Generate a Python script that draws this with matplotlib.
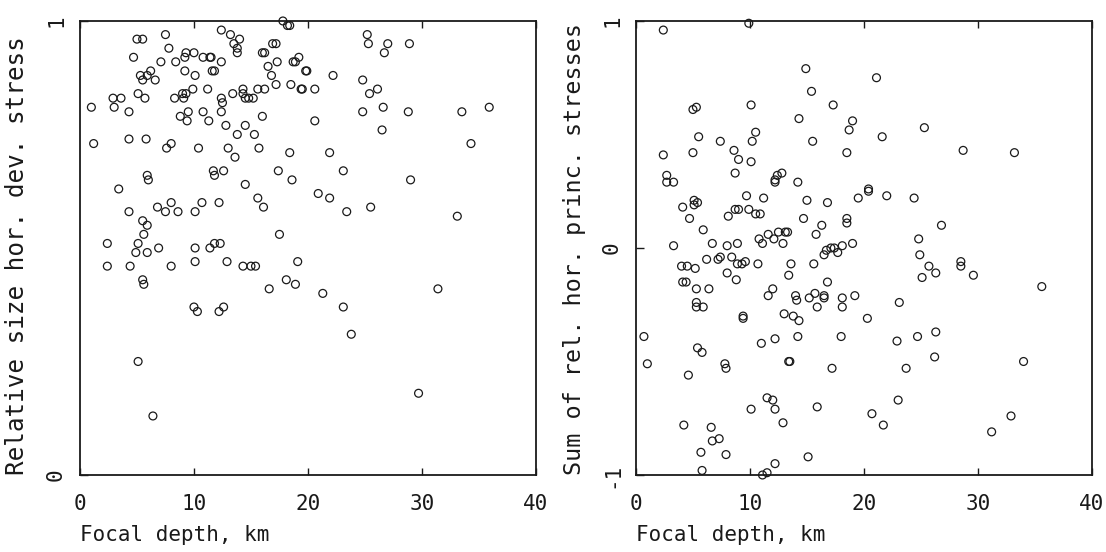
import matplotlib
matplotlib.use('Agg')
import matplotlib.pyplot as plt

# focal depth (km) and relative size of horizontal deviatoric stress
depth_left = [
    17.8, 18.2, 18.4, 5.0, 5.5, 7.5, 12.4, 13.2, 14.0, 13.5, 13.8, 13.8, 7.8, 4.7,
    7.1, 8.4, 9.3, 10.0, 9.2, 10.8, 11.4, 11.5, 12.4, 16.0, 16.2, 16.9, 17.2, 16.5,
    17.3, 16.8, 17.2, 18.9, 19.2, 18.7, 19.8, 18.5, 19.4, 5.3, 5.5, 6.2, 6.6, 5.9,
    9.2, 10.1, 11.6, 11.8, 8.3, 9.0, 9.3, 9.9, 9.1, 11.2, 12.4, 12.5, 12.4, 13.4,
    14.3, 14.3, 14.5, 14.8, 15.2, 15.6, 16.2, 2.9, 3.6, 3.0, 5.1, 5.7, 1.0, 4.3,
    9.5, 8.8, 9.4, 10.8, 11.3, 16.0, 12.8, 14.5, 13.8, 15.3, 1.2, 4.3, 5.8, 7.6,
    8.0, 10.4, 13.0, 13.6, 15.7, 18.4, 11.7, 11.8, 12.6, 5.9, 6.0, 17.4, 18.6, 14.5,
    3.4, 25.2, 25.3, 27.0, 26.7, 28.9, 19.9, 19.5, 20.6, 22.2, 24.8, 26.1, 25.4, 24.8,
    26.6, 28.8, 33.5, 35.9, 20.6, 26.5, 34.3, 21.9, 23.1, 29.0, 15.6, 16.1, 4.3, 6.8,
    7.5, 8.0, 8.6, 10.1, 10.7, 12.2, 5.5, 5.9, 5.6, 17.5, 2.4, 5.1, 4.9, 5.9, 6.9,
    10.1, 11.4, 11.8, 12.3, 2.4, 4.4, 8.0, 10.1, 12.9, 14.3, 15.0, 15.4, 19.1, 5.5,
    5.6, 16.6, 18.1, 18.9, 10.0, 10.3, 12.2, 12.6, 20.9, 21.9, 23.4, 25.5, 33.1, 31.4,
    21.3, 23.1, 5.1, 6.4, 23.8, 29.7,
]
rel_size = [
    1.00, 0.99, 0.99, 0.96, 0.96, 0.97, 0.98, 0.97, 0.96, 0.95, 0.94, 0.93, 0.94, 0.92,
    0.91, 0.91, 0.93, 0.93, 0.92, 0.92, 0.92, 0.92, 0.91, 0.93, 0.93, 0.95, 0.95, 0.90,
    0.91, 0.88, 0.86, 0.91, 0.92, 0.91, 0.89, 0.86, 0.85, 0.88, 0.87, 0.89, 0.87, 0.88,
    0.89, 0.88, 0.89, 0.89, 0.83, 0.84, 0.84, 0.85, 0.83, 0.85, 0.83, 0.82, 0.80, 0.84,
    0.85, 0.84, 0.83, 0.83, 0.83, 0.85, 0.85, 0.83, 0.83, 0.81, 0.84, 0.83, 0.81, 0.80,
    0.80, 0.79, 0.78, 0.80, 0.78, 0.79, 0.77, 0.77, 0.75, 0.75, 0.73, 0.74, 0.74, 0.72,
    0.73, 0.72, 0.72, 0.70, 0.72, 0.71, 0.67, 0.66, 0.67, 0.66, 0.65, 0.67, 0.65, 0.64,
    0.63, 0.97, 0.95, 0.95, 0.93, 0.95, 0.89, 0.85, 0.85, 0.88, 0.87, 0.85, 0.84, 0.80,
    0.81, 0.80, 0.80, 0.81, 0.78, 0.76, 0.73, 0.71, 0.67, 0.65, 0.61, 0.59, 0.58, 0.59,
    0.58, 0.60, 0.58, 0.58, 0.60, 0.60, 0.56, 0.55, 0.53, 0.53, 0.51, 0.51, 0.49, 0.49,
    0.50, 0.50, 0.50, 0.51, 0.51, 0.46, 0.46, 0.46, 0.47, 0.47, 0.46, 0.46, 0.46, 0.47,
    0.43, 0.42, 0.41, 0.43, 0.42, 0.37, 0.36, 0.36, 0.37, 0.62, 0.61, 0.58, 0.59, 0.57,
    0.41, 0.40, 0.37, 0.25, 0.13, 0.31, 0.18,
]

# focal depth (km) and sum of relative horizontal principal stresses
depth_right = [
    2.4, 9.9, 14.9, 15.4, 14.3, 15.5, 10.1, 5.0, 5.3, 5.5, 10.5, 10.2, 7.4, 2.4,
    5.0, 8.6, 9.0, 10.1, 2.7, 2.7, 3.3, 8.7, 12.2, 12.4, 12.8, 12.2, 14.2, 21.1,
    17.3, 19.0, 18.7, 21.6, 25.3, 18.5, 28.7, 33.2, 20.4, 9.7, 11.2, 4.1, 5.1, 5.4,
    5.1, 4.7, 8.7, 9.0, 9.9, 8.1, 10.5, 10.9, 15.0, 16.8, 14.7, 16.3, 5.9, 15.8,
    3.3, 6.7, 8.0, 8.9, 10.8, 11.6, 11.1, 12.1, 12.5, 13.3, 13.1, 12.9, 6.2, 7.2,
    7.4, 8.4, 8.9, 9.3, 9.6, 10.7, 4.0, 4.5, 5.2, 8.0, 13.6, 13.4, 4.1, 4.4,
    8.8, 5.3, 6.4, 12.0, 11.6, 5.3, 5.3, 5.9, 14.0, 14.1, 15.2, 15.7, 16.5, 16.5,
    15.6, 16.5, 16.7, 16.8, 15.9, 9.4, 9.4, 13.0, 13.8, 14.3, 19.5, 20.4, 22.0, 24.4,
    18.5, 18.5, 26.8, 24.8, 24.9, 25.7, 26.3, 25.1, 28.5, 28.5, 29.6, 35.6, 17.1, 17.4,
    17.7, 18.1, 19.0, 18.1, 18.1, 19.2, 23.1, 20.3, 0.7, 1.0, 5.4, 5.8, 4.6, 7.8,
    7.9, 11.0, 12.2, 14.2, 13.4, 13.5, 17.2, 18.0, 22.9, 24.7, 26.3, 26.2, 23.7, 34.0,
    11.5, 12.0, 10.1, 12.2, 15.9, 12.9, 23.0, 20.7, 21.7, 32.9, 31.2, 4.2, 6.6, 6.7,
    7.3, 5.7, 7.9, 12.2, 15.1, 5.8, 11.1, 11.5,
]
stress_sum = [
    0.96, 0.99, 0.79, 0.69, 0.57, 0.47, 0.63, 0.61, 0.62, 0.49, 0.51, 0.47, 0.47, 0.41,
    0.42, 0.43, 0.39, 0.38, 0.32, 0.29, 0.29, 0.33, 0.30, 0.32, 0.33, 0.29, 0.29, 0.75,
    0.63, 0.56, 0.52, 0.49, 0.53, 0.42, 0.43, 0.42, 0.26, 0.23, 0.22, 0.18, 0.19, 0.20,
    0.21, 0.13, 0.17, 0.17, 0.17, 0.14, 0.15, 0.15, 0.21, 0.20, 0.13, 0.10, 0.08, 0.06,
    0.01, 0.02, 0.01, 0.02, 0.04, 0.06, 0.02, 0.04, 0.07, 0.07, 0.07, 0.02, -0.05, -0.05,
    -0.04, -0.04, -0.07, -0.07, -0.06, -0.07, -0.08, -0.08, -0.09, -0.11, -0.07, -0.12, -0.15, -0.15,
    -0.14, -0.18, -0.18, -0.18, -0.21, -0.24, -0.26, -0.26, -0.21, -0.23, -0.22, -0.20, -0.21, -0.22,
    -0.07, -0.03, -0.01, -0.15, -0.26, -0.30, -0.31, -0.29, -0.30, -0.32, 0.22, 0.25, 0.23, 0.22,
    0.13, 0.11, 0.10, 0.04, -0.03, -0.08, -0.11, -0.13, -0.06, -0.08, -0.12, -0.17, 0.00, 0.00,
    -0.02, 0.01, 0.02, -0.22, -0.26, -0.21, -0.24, -0.31, -0.39, -0.51, -0.44, -0.46, -0.56, -0.51,
    -0.53, -0.42, -0.40, -0.39, -0.50, -0.50, -0.53, -0.39, -0.41, -0.39, -0.37, -0.48, -0.53, -0.50,
    -0.66, -0.67, -0.71, -0.71, -0.70, -0.77, -0.67, -0.73, -0.78, -0.74, -0.81, -0.78, -0.79, -0.85,
    -0.84, -0.90, -0.91, -0.95, -0.92, -0.98, -1.00, -0.99,
]

x_ticks = [0, 10, 20, 30, 40]
ink = '#1a1a1a'
font = 'DejaVu Sans Mono'

fig = plt.figure(figsize=(11.06, 5.52), dpi=100)
ax1 = fig.add_axes([0.0723, 0.1395, 0.4123, 0.8225])
ax2 = fig.add_axes([0.5750, 0.1395, 0.4123, 0.8225])

panels = [
    (ax1, depth_left, rel_size, (0, 1), [0, 1], 'Relative size hor. dev. stress', -0.138, 17.5),
    (ax2, depth_right, stress_sum, (-1, 1), [-1, 0, 1], 'Sum of rel. hor. princ. stresses', -0.134, 16.8),
]

for ax, xs, ys, ylim, yticks, ylabel, ylab_x, ylab_size in panels:
    ax.scatter(xs, ys, s=32, facecolors='none', edgecolors=ink, linewidths=0.9,
               clip_on=False, zorder=3)
    ax.set_xlim(0, 40)
    ax.set_ylim(*ylim)
    ax.set_xticks(x_ticks)
    ax.set_xticklabels([str(t) for t in x_ticks], family=font, fontsize=15, color=ink)
    ax.set_yticks(yticks)
    ax.set_yticklabels([str(t) for t in yticks], family=font, fontsize=15, color=ink,
                       rotation=90, va='center')
    ax.tick_params(axis='x', direction='in', top=True, length=5, width=1, pad=14, colors=ink)
    ax.tick_params(axis='y', direction='in', length=6, width=1, pad=10, colors=ink)
    for sp in ax.spines.values():
        sp.set_linewidth(1.3)
        sp.set_color(ink)
    ax.text(0, -0.132, 'Focal depth, km', transform=ax.transAxes, ha='left', va='center',
            family=font, fontsize=15, color=ink)
    ax.text(ylab_x, 0, ylabel, transform=ax.transAxes, ha='center', va='bottom',
            rotation=90, family=font, fontsize=ylab_size, color=ink)

fig.savefig('out.png', dpi=100)
